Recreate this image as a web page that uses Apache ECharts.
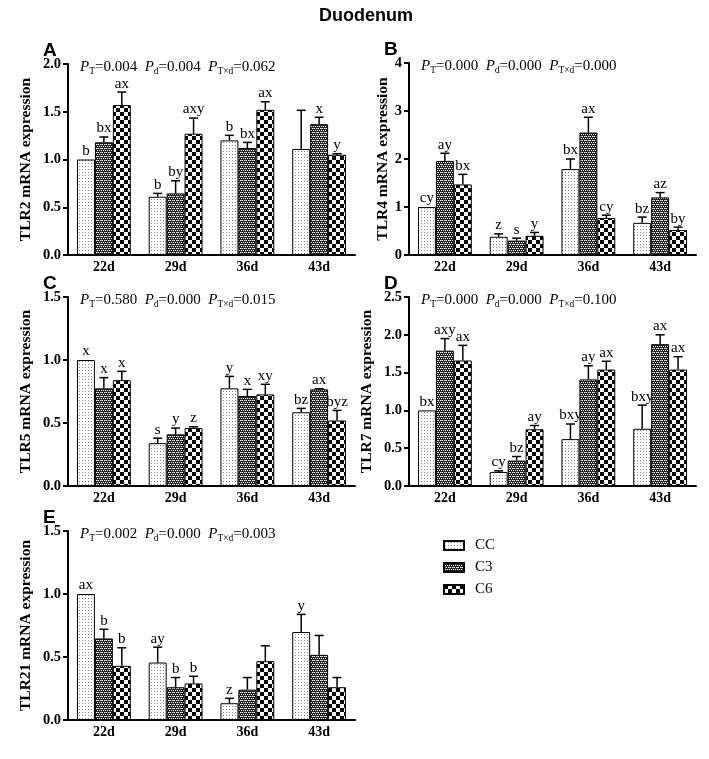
<!DOCTYPE html>
<html>
<head>
<meta charset="utf-8">
<script src="https://cdn.jsdelivr.net/npm/echarts@6/dist/echarts.min.js"></script>
<style>html,body{margin:0;padding:0;background:#fff}#c{width:709px;height:759px}</style>
</head>
<body>
<div id="c"></div>
<script>
// ---------- DATA ----------
const categories = ['22d', '29d', '36d', '43d'];
const groups = ['CC', 'C3', 'C6'];

// TLR2 (A)
const tlr2_CC = [1.00, 0.61, 1.20, 1.11];
const tlr2_C3 = [1.18, 0.645, 1.12, 1.37];
const tlr2_C6 = [1.57, 1.27, 1.52, 1.05];
const tlr2_CC_sem = [0, 0.035, 0.053, 0.405];
const tlr2_C3_sem = [0.056, 0.132, 0.059, 0.072];
const tlr2_C6_sem = [0.136, 0.164, 0.084, 0.011];
const tlr2_CC_lab = ['b', 'b', 'b', ''];
const tlr2_C3_lab = ['bx', 'by', 'bx', 'x'];
const tlr2_C6_lab = ['ax', 'axy', 'ax', 'y'];

// TLR4 (B)
const tlr4_CC = [1.00, 0.38, 1.79, 0.67];
const tlr4_C3 = [1.96, 0.30, 2.55, 1.20];
const tlr4_C6 = [1.47, 0.40, 0.77, 0.52];
const tlr4_CC_sem = [0, 0.06, 0.21, 0.12];
const tlr4_C3_sem = [0.16, 0.05, 0.32, 0.10];
const tlr4_C6_sem = [0.21, 0.07, 0.06, 0.06];
const tlr4_CC_lab = ['cy', 'z', 'bx', 'bz'];
const tlr4_C3_lab = ['ay', 's', 'ax', 'az'];
const tlr4_C6_lab = ['bx', 'y', 'cy', 'by'];

// TLR5 (C)
const tlr5_CC = [1.00, 0.34, 0.775, 0.585];
const tlr5_C3 = [0.775, 0.41, 0.714, 0.767];
const tlr5_C6 = [0.84, 0.46, 0.727, 0.52];
const tlr5_CC_sem = [0, 0.04, 0.095, 0.031];
const tlr5_C3_sem = [0.085, 0.05, 0.053, 0.005];
const tlr5_C6_sem = [0.07, 0.01, 0.08, 0.08];
const tlr5_CC_lab = ['x', 's', 'y', 'bz'];
const tlr5_C3_lab = ['x', 'y', 'x', 'ax'];
const tlr5_C6_lab = ['x', 'z', 'xy', 'byz'];

// TLR7 (D)
const tlr7_CC = [1.00, 0.186, 0.62, 0.757];
const tlr7_C3 = [1.79, 0.336, 1.41, 1.876];
const tlr7_C6 = [1.66, 0.75, 1.54, 1.54];
const tlr7_CC_sem = [0, 0.014, 0.20, 0.313];
const tlr7_C3_sem = [0.16, 0.054, 0.18, 0.124];
const tlr7_C6_sem = [0.20, 0.05, 0.11, 0.17];
const tlr7_CC_lab = ['bx', 'cy', 'bxy', 'bxy'];
const tlr7_C3_lab = ['axy', 'bz', 'ay', 'ax'];
const tlr7_C6_lab = ['ax', 'ay', 'ax', 'ax'];

// TLR21 (E)
const tlr21_CC = [1.00, 0.456, 0.133, 0.698];
const tlr21_C3 = [0.647, 0.26, 0.241, 0.517];
const tlr21_C6 = [0.43, 0.29, 0.467, 0.26];
const tlr21_CC_sem = [0, 0.122, 0.039, 0.14];
const tlr21_C3_sem = [0.073, 0.077, 0.096, 0.154];
const tlr21_C6_sem = [0.143, 0.057, 0.122, 0.077];
const tlr21_CC_lab = ['ax', 'ay', 'z', 'y'];
const tlr21_C3_lab = ['b', 'b', '', ''];
const tlr21_C6_lab = ['b', 'b', '', ''];

// P values: [P_T, P_d, P_Txd]
const pA = ['0.004', '0.004', '0.062'];
const pB = ['0.000', '0.000', '0.000'];
const pC = ['0.580', '0.000', '0.015'];
const pD = ['0.000', '0.000', '0.100'];
const pE = ['0.002', '0.000', '0.003'];

// y axis ticks
const yA = {max: 2.0, interval: 0.5, dec: 1};
const yB = {max: 4, interval: 1, dec: 0};
const yC = {max: 1.5, interval: 0.5, dec: 1};
const yD = {max: 2.5, interval: 0.5, dec: 1};
const yE = {max: 1.5, interval: 0.5, dec: 1};

// ---------- PATTERNS ----------
function pat(w, h, draw) {
  const c = document.createElement('canvas');
  c.width = w; c.height = h;
  const ctx = c.getContext('2d');
  draw(ctx);
  return {image: c, repeat: 'repeat'};
}
const patCC = pat(3, 3, ctx => { ctx.fillStyle = '#fff'; ctx.fillRect(0, 0, 3, 3); ctx.fillStyle = '#8a8a8a'; ctx.fillRect(1, 1, 1, 1); });
const patC3 = pat(4, 4, ctx => {
  ctx.fillStyle = '#262626'; ctx.fillRect(0, 0, 4, 4);
  ctx.fillStyle = '#fff'; ctx.fillRect(0, 0, 1, 1); ctx.fillRect(2, 0, 1, 1); ctx.fillRect(1, 2, 1, 1); ctx.fillRect(3, 2, 1, 1);
  ctx.fillStyle = '#9a9a9a'; ctx.fillRect(1, 0, 1, 1); ctx.fillRect(3, 2 - 2, 0, 0);
});
const patC6 = pat(8, 8, ctx => {
  ctx.fillStyle = '#fff'; ctx.fillRect(0, 0, 8, 8);
  ctx.fillStyle = '#000'; ctx.fillRect(0, 0, 4, 4); ctx.fillRect(4, 4, 4, 4);
});
const patterns = [patCC, patC3, patC6];

// ---------- PANELS ----------
const panels = [
  {letter: 'A', name: 'TLR2 mRNA expression', vals: [tlr2_CC, tlr2_C3, tlr2_C6], sems: [tlr2_CC_sem, tlr2_C3_sem, tlr2_C6_sem], labs: [tlr2_CC_lab, tlr2_C3_lab, tlr2_C6_lab], p: pA, y: yA,
   grid: {left: 68, top: 64, width: 287, height: 191}, nameGap: 34},
  {letter: 'B', name: 'TLR4 mRNA expression', vals: [tlr4_CC, tlr4_C3, tlr4_C6], sems: [tlr4_CC_sem, tlr4_C3_sem, tlr4_C6_sem], labs: [tlr4_CC_lab, tlr4_C3_lab, tlr4_C6_lab], p: pB, y: yB,
   grid: {left: 409, top: 63, width: 287, height: 192}, nameGap: 14},
  {letter: 'C', name: 'TLR5 mRNA expression', vals: [tlr5_CC, tlr5_C3, tlr5_C6], sems: [tlr5_CC_sem, tlr5_C3_sem, tlr5_C6_sem], labs: [tlr5_CC_lab, tlr5_C3_lab, tlr5_C6_lab], p: pC, y: yC,
   grid: {left: 68, top: 297, width: 287, height: 189}, nameGap: 34},
  {letter: 'D', name: 'TLR7 mRNA expression', vals: [tlr7_CC, tlr7_C3, tlr7_C6], sems: [tlr7_CC_sem, tlr7_C3_sem, tlr7_C6_sem], labs: [tlr7_CC_lab, tlr7_C3_lab, tlr7_C6_lab], p: pD, y: yD,
   grid: {left: 409, top: 297, width: 287, height: 189}, nameGap: 34},
  {letter: 'E', name: 'TLR21 mRNA expression', vals: [tlr21_CC, tlr21_C3, tlr21_C6], sems: [tlr21_CC_sem, tlr21_C3_sem, tlr21_C6_sem], labs: [tlr21_CC_lab, tlr21_C3_lab, tlr21_C6_lab], p: pE, y: yE,
   grid: {left: 68, top: 531, width: 287, height: 189}, nameGap: 34}
];

const SERIF = '"Liberation Serif", "Times New Roman", serif';
const SANS = '"Liberation Sans", Arial, sans-serif';

const grids = [], xAxes = [], yAxes = [], series = [], graphics = [];

panels.forEach((p, pi) => {
  grids.push(Object.assign({containLabel: false}, p.grid));
  xAxes.push({
    type: 'category', gridIndex: pi, data: categories,
    axisLine: {lineStyle: {color: '#000', width: 2}},
    axisTick: {alignWithLabel: true, length: 5, lineStyle: {color: '#000', width: 2}},
    axisLabel: {color: '#000', fontFamily: SERIF, fontWeight: 'bold', fontSize: 14, margin: 5}
  });
  yAxes.push({
    type: 'value', gridIndex: pi, min: 0, max: p.y.max, interval: p.y.interval,
    name: p.name, nameLocation: 'middle', nameGap: p.nameGap,
    nameTextStyle: {color: '#000', fontFamily: SERIF, fontWeight: 'bold', fontSize: 15.5},
    axisLine: {show: true, lineStyle: {color: '#000', width: 2}},
    axisTick: {show: true, length: 5, lineStyle: {color: '#000', width: 2}},
    splitLine: {show: false},
    axisLabel: {color: '#000', fontFamily: SERIF, fontWeight: 'bold', fontSize: 14.5, margin: 7,
      formatter: v => v.toFixed(p.y.dec)}
  });
  groups.forEach((g, gi) => {
    series.push({
      type: 'bar', name: g, xAxisIndex: pi, yAxisIndex: pi, data: p.vals[gi],
      barWidth: '25%', barGap: '0%',
      itemStyle: {color: patterns[gi], borderColor: '#000', borderWidth: 1},
      emphasis: {disabled: true}, z: 2
    });
  });
  const items = [], labels = [];
  groups.forEach((g, gi) => {
    categories.forEach((c, ci) => {
      items.push([ci, gi, p.vals[gi][ci], p.vals[gi][ci] + p.sems[gi][ci]]);
      labels.push(p.labs[gi][ci]);
    });
  });
  series.push({
    type: 'custom', xAxisIndex: pi, yAxisIndex: pi, data: items, z: 5, silent: true,
    encode: {x: 0, y: [2, 3]},
    renderItem: function (params, api) {
      const ci = api.value(0), gi = api.value(1), v = api.value(2), t = api.value(3);
      const base = api.coord([ci, v]);
      const band = api.size([1, 0])[0];
      const bw = band * 0.25;
      const x = base[0] + (gi - 1) * bw;
      const yv = base[1];
      const yt = api.coord([ci, t])[1];
      const children = [];
      if (t > v + 1e-9) {
        children.push({type: 'line', shape: {x1: x, y1: yv, x2: x, y2: yt}, style: {stroke: '#000', lineWidth: 1.5}});
        children.push({type: 'line', shape: {x1: x - 4.5, y1: yt, x2: x + 4.5, y2: yt}, style: {stroke: '#000', lineWidth: 1.5}});
      }
      const lab = labels[params.dataIndex];
      if (lab) {
        children.push({type: 'text', style: {text: lab, x: x, y: yt - 1, align: 'center', verticalAlign: 'bottom',
          font: '15px ' + SERIF, fill: '#000'}});
      }
      return {type: 'group', children: children};
    }
  });
  // panel letter
  const gl = p.grid.left, gt = p.grid.top;
  graphics.push({type: 'text', x: gl - 25, y: gt - 13, style: {text: p.letter, font: 'bold 19px ' + SANS, fill: '#000', verticalAlign: 'middle'}});
  // P values
  const ptxt = '{i|P}{s|T}{n|=' + p.p[0] + '  }{i|P}{s|d}{n|=' + p.p[1] + '  }{i|P}{s|T×d}{n|=' + p.p[2] + '}';
  graphics.push({type: 'text', x: gl + 12, y: gt + 3, style: {
    text: ptxt, verticalAlign: 'middle', fill: '#000',
    rich: {
      i: {fontFamily: SERIF, fontStyle: 'italic', fontSize: 15, lineHeight: 18, verticalAlign: 'middle', fill: '#000'},
      n: {fontFamily: SERIF, fontSize: 15, lineHeight: 18, verticalAlign: 'middle', fill: '#000'},
      s: {fontFamily: SERIF, fontSize: 9.5, lineHeight: 12, verticalAlign: 'bottom', fill: '#000'}
    }
  }});
});

graphics.push({type: 'text', x: 366, y: 16, style: {text: 'Duodenum', font: 'bold 18px ' + SANS, fill: '#000', align: 'center', verticalAlign: 'middle'}});

const chart = echarts.init(document.getElementById('c'), null, {renderer: 'canvas'});
chart.setOption({
  animation: false,
  backgroundColor: '#fff',
  grid: grids, xAxis: xAxes, yAxis: yAxes, series: series,
  legend: {
    orient: 'vertical', left: 438, top: 533, itemWidth: 20, itemHeight: 9, itemGap: 7,
    data: groups, icon: 'rect', selectedMode: false,
    textStyle: {fontFamily: SERIF, fontSize: 15, color: '#000', padding: [0, 0, 0, 6]}
  },
  graphic: graphics
});
</script>
</body>
</html>
